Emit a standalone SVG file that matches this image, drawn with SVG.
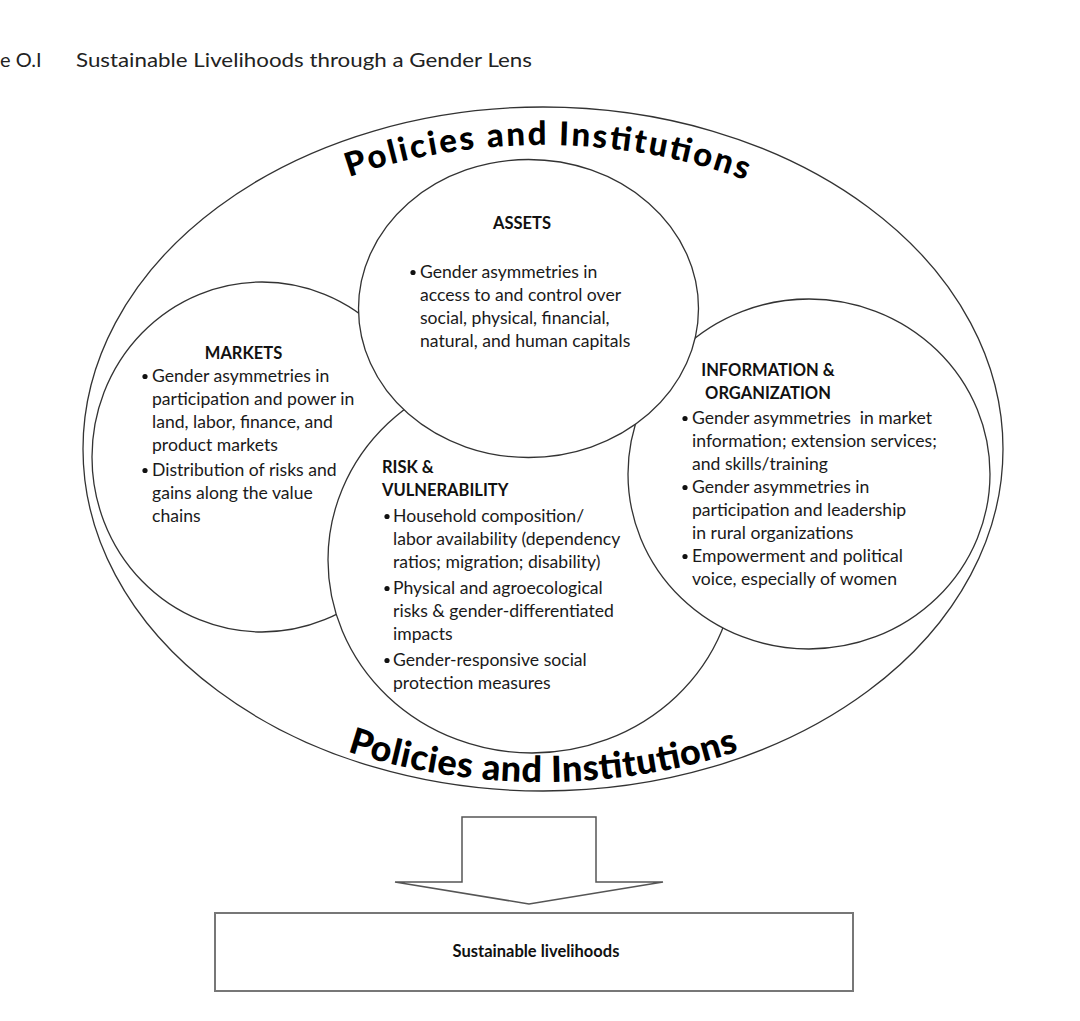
<svg xmlns="http://www.w3.org/2000/svg" width="1080" height="1021" viewBox="0 0 1080 1021">
<defs>
<style>
.shape{fill:#fff;stroke:#333;stroke-width:1.3}
.t{font-family:Lato,"Noto Sans","Liberation Sans",sans-serif;font-size:17.6px;fill:#1a1a1a}
.h{font-family:Lato,"Noto Sans","Liberation Sans",sans-serif;font-size:16.5px;font-weight:bold;fill:#111}
.pi{font-family:Lato,"Noto Sans","Liberation Sans",sans-serif;font-weight:900;fill:#000}
.title{font-family:Lato,"Noto Sans","Liberation Sans",sans-serif;font-size:20px;fill:#222}
.b{fill:#111}
</style>
<path id="topArc" d="M109,449 A434,304 0 0 1 977,449"/>
<path id="botArc" d="M76,449 A467,333 0 0 0 1010,449"/>
</defs>
<rect width="1080" height="1021" fill="#fff"/>

<g id="title">
<text class="title" x="0" y="67">e O.I</text>
<text class="title" x="76" y="67" textLength="456" lengthAdjust="spacingAndGlyphs">Sustainable Livelihoods through a Gender Lens</text>
</g>

<g id="policies">
<ellipse class="shape" cx="543" cy="449" rx="460" ry="342"/>
<text class="pi" font-size="33"><textPath href="#topArc" startOffset="50.4%" text-anchor="middle" textLength="404" lengthAdjust="spacing">Policies and Institutions</textPath></text>
<text class="pi" font-size="36"><textPath href="#botArc" startOffset="50%" text-anchor="middle" textLength="398" lengthAdjust="spacing">Policies and Institutions</textPath></text>
</g>

<g id="markets">
<ellipse class="shape" cx="262" cy="457" rx="170" ry="175"/>
<text class="h" x="243.5" y="359" text-anchor="middle">MARKETS</text>
<circle class="b" cx="145" cy="376.5" r="2.6"/>
<text class="t" x="152" y="382">Gender asymmetries in</text>
<text class="t" x="152" y="405">participation and power in</text>
<text class="t" x="152" y="428">land, labor, finance, and</text>
<text class="t" x="152" y="451">product markets</text>
<circle class="b" cx="145" cy="470.5" r="2.6"/>
<text class="t" x="152" y="476">Distribution of risks and</text>
<text class="t" x="152" y="499">gains along the value</text>
<text class="t" x="152" y="522">chains</text>
</g>

<g id="risk">
<ellipse class="shape" cx="532" cy="560" rx="204" ry="193"/>
<text class="h" x="382" y="473">RISK &amp;</text>
<text class="h" x="382" y="496">VULNERABILITY</text>
<circle class="b" cx="387" cy="516.5" r="2.6"/>
<text class="t" x="393" y="522">Household composition/</text>
<text class="t" x="393" y="545">labor availability (dependency</text>
<text class="t" x="393" y="568">ratios; migration; disability)</text>
<circle class="b" cx="387" cy="588.5" r="2.6"/>
<text class="t" x="393" y="594">Physical and agroecological</text>
<text class="t" x="393" y="617">risks &amp; gender-differentiated</text>
<text class="t" x="393" y="640">impacts</text>
<circle class="b" cx="387" cy="660.5" r="2.6"/>
<text class="t" x="393" y="666">Gender-responsive social</text>
<text class="t" x="393" y="689">protection measures</text>
</g>

<g id="information">
<ellipse class="shape" cx="809" cy="474" rx="181" ry="175"/>
<text class="h" x="768" y="376" text-anchor="middle">INFORMATION &amp;</text>
<text class="h" x="768" y="399" text-anchor="middle">ORGANIZATION</text>
<circle class="b" cx="685" cy="418.5" r="2.6"/>
<text class="t" x="692" y="424" xml:space="preserve">Gender asymmetries  in market</text>
<text class="t" x="692" y="447">information; extension services;</text>
<text class="t" x="692" y="470">and skills/training</text>
<circle class="b" cx="685" cy="487.5" r="2.6"/>
<text class="t" x="692" y="493">Gender asymmetries in</text>
<text class="t" x="692" y="516">participation and leadership</text>
<text class="t" x="692" y="539">in rural organizations</text>
<circle class="b" cx="685" cy="556.5" r="2.6"/>
<text class="t" x="692" y="562">Empowerment and political</text>
<text class="t" x="692" y="585">voice, especially of women</text>
</g>

<g id="assets">
<ellipse class="shape" cx="528.5" cy="308.5" rx="170" ry="149"/>
<text class="h" x="522" y="229" text-anchor="middle">ASSETS</text>
<circle class="b" cx="413" cy="272.5" r="2.6"/>
<text class="t" x="420" y="278">Gender asymmetries in</text>
<text class="t" x="420" y="301">access to and control over</text>
<text class="t" x="420" y="324">social, physical, financial,</text>
<text class="t" x="420" y="347">natural, and human capitals</text>
</g>

<g id="connectors">
<path d="M462,817 H596 V882 H663 L529,904 L395,882 H462 Z" fill="#fff" stroke="#555" stroke-width="1.5"/>
</g>

<g id="livelihoods">
<rect x="215" y="913" width="638" height="78" fill="#fff" stroke="#777" stroke-width="2"/>
<text class="h" x="536" y="957" text-anchor="middle" font-size="16">Sustainable livelihoods</text>
</g>
</svg>
